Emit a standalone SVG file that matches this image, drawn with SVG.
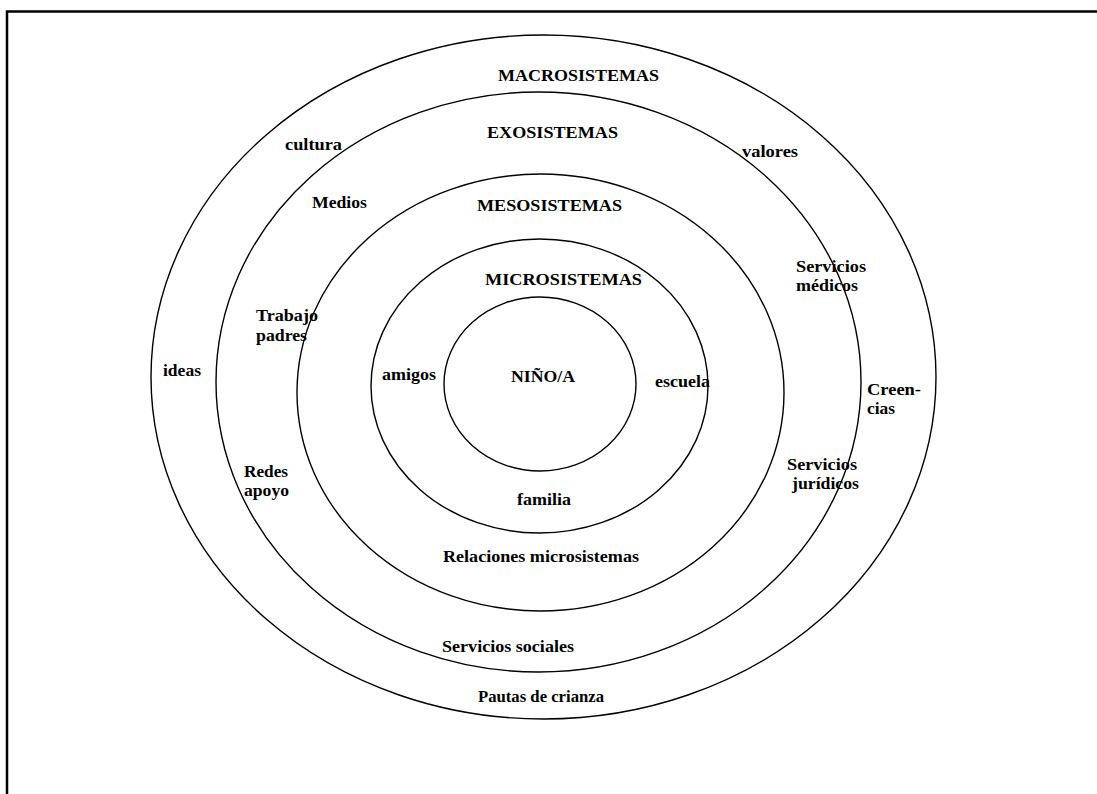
<svg xmlns="http://www.w3.org/2000/svg" width="1097" height="794" viewBox="0 0 1097 794">
<style>
.ring{fill:none;stroke:#000;stroke-width:1.4}
.frame{fill:none;stroke:#000;stroke-width:2.5}
text{font-family:"Liberation Serif","Times New Roman",serif;font-weight:bold;font-size:17.5px;fill:#000}
</style>
<rect width="1097" height="794" fill="#fff"/>
<g id="frame">
<polyline class="frame" points="7,794 7,11.5 1097,11.5"/>
</g>
<g id="rings">
<ellipse id="macro" class="ring" cx="543.5" cy="377" rx="392.5" ry="342"/>
<ellipse id="exo" class="ring" cx="538.5" cy="382" rx="322.5" ry="290"/>
<ellipse id="meso" class="ring" cx="540.5" cy="392.5" rx="243.5" ry="218.5"/>
<ellipse id="micro" class="ring" cx="539.5" cy="386" rx="168.5" ry="147"/>
<ellipse id="nino" class="ring" cx="540" cy="384" rx="96" ry="87"/>
</g>
<g id="labels">
<text x="498" y="81" textLength="161" lengthAdjust="spacingAndGlyphs">MACROSISTEMAS</text>
<text x="487" y="138" textLength="131" lengthAdjust="spacingAndGlyphs">EXOSISTEMAS</text>
<text x="477" y="211" textLength="145" lengthAdjust="spacingAndGlyphs">MESOSISTEMAS</text>
<text x="485" y="285" textLength="157" lengthAdjust="spacingAndGlyphs">MICROSISTEMAS</text>
<text x="511" y="382" textLength="64" lengthAdjust="spacingAndGlyphs">NIÑO/A</text>
<text x="285" y="150" textLength="57" lengthAdjust="spacingAndGlyphs">cultura</text>
<text x="312" y="208" textLength="55" lengthAdjust="spacingAndGlyphs">Medios</text>
<text x="256" y="321" textLength="62" lengthAdjust="spacingAndGlyphs">Trabajo</text>
<text x="256" y="341" textLength="51" lengthAdjust="spacingAndGlyphs">padres</text>
<text x="163" y="376" textLength="38" lengthAdjust="spacingAndGlyphs">ideas</text>
<text x="382" y="380" textLength="54" lengthAdjust="spacingAndGlyphs">amigos</text>
<text x="742" y="157" textLength="56" lengthAdjust="spacingAndGlyphs">valores</text>
<text x="796" y="272" textLength="70" lengthAdjust="spacingAndGlyphs">Servicios</text>
<text x="796" y="291" textLength="62" lengthAdjust="spacingAndGlyphs">médicos</text>
<text x="655" y="387" textLength="55" lengthAdjust="spacingAndGlyphs">escuela</text>
<text x="867" y="395" textLength="54" lengthAdjust="spacingAndGlyphs">Creen-</text>
<text x="867" y="414" textLength="28" lengthAdjust="spacingAndGlyphs">cias</text>
<text x="787" y="470" textLength="70" lengthAdjust="spacingAndGlyphs">Servicios</text>
<text x="792" y="489" textLength="67" lengthAdjust="spacingAndGlyphs">jurídicos</text>
<text x="244" y="477" textLength="44" lengthAdjust="spacingAndGlyphs">Redes</text>
<text x="244" y="496" textLength="45" lengthAdjust="spacingAndGlyphs">apoyo</text>
<text x="517" y="505" textLength="54" lengthAdjust="spacingAndGlyphs">familia</text>
<text x="443" y="562" textLength="196" lengthAdjust="spacingAndGlyphs">Relaciones microsistemas</text>
<text x="442" y="652" textLength="132" lengthAdjust="spacingAndGlyphs">Servicios sociales</text>
<text x="478" y="702" textLength="126" lengthAdjust="spacingAndGlyphs">Pautas de crianza</text>
</g>
</svg>
